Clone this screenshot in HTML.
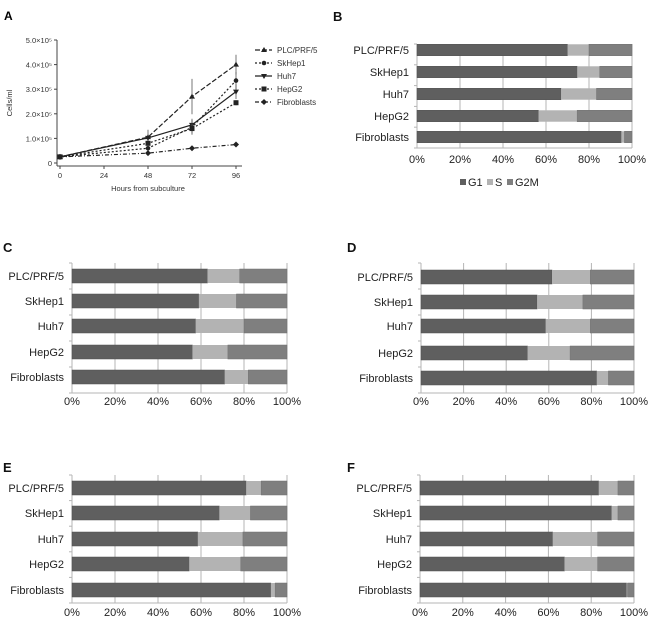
<!DOCTYPE html>
<html><head><meta charset="utf-8"><style>
body{margin:0;background:#fff}
svg{display:block;font-family:"Liberation Sans",Arial,sans-serif}
</style></head><body>
<svg id="fig" width="650" height="621" viewBox="0 0 650 621"></svg>
<script>
const NS="http://www.w3.org/2000/svg";
const svg=document.getElementById('fig');
function mk(tag,attrs,parent,text){const e=document.createElementNS(NS,tag);for(const k in attrs)e.setAttribute(k,attrs[k]);if(text!==undefined)e.textContent=text;(parent||svg).appendChild(e);return e;}

// ---------- Panel A data ----------
const hours=[0,48,72,96];
const lineNames=["PLC/PRF/5","SkHep1","Huh7","HepG2","Fibroblasts"];
const plcVals=[0.25,1.05,2.7,4.0];
const skVals=[0.25,0.6,1.45,3.35];
const huhVals=[0.25,1.02,1.55,2.9];
const hepVals=[0.25,0.8,1.4,2.45];
const fibVals=[0.25,0.4,0.6,0.75];
const plcErr=[0,0.3,0.72,0.4];
const skErr=[0,0.1,0.3,0.35];
const huhErr=[0,0.15,0.25,0.3];
const hepErr=[0,0.1,0.2,0.1];
const fibErr=[0,0.03,0.03,0.03];
const xTicksA=[0,24,48,72,96];
const yTicksA=[0,1,2,3,4,5];
const yTickLabelsA=["0","1.0×10⁵","2.0×10⁵","3.0×10⁵","4.0×10⁵","5.0×10⁵"];

// ---------- Panels B-F data ----------
const cellLines=["PLC/PRF/5","SkHep1","Huh7","HepG2","Fibroblasts"];
const xTickPct=[0,20,40,60,80,100];
const g1B=[70,74.5,67,56.5,95], sB=[10,10.5,16.5,18,1.5];
const g1C=[63,59,57.5,56,71], sC=[15,17.5,22.5,16.5,11];
const g1D=[61.5,54.5,58.5,50,82.5], sD=[18,21.5,21,20,5.5];
const g1E=[81,68.5,58.5,54.5,92.5], sE=[7,14.5,21,24,2];
const g1F=[83.5,89.5,62,67.5,96.5], sF=[9,3,21,15.5,0.5];

// ---------- Panel A ----------
const gA=mk('g',{},svg);


const ax=h=>60+h*(236-60)/96;
const ay=v=>163-v*(163-40)/5;
const la=mk('text',{x:4,y:20,'font-size':12,'font-weight':'bold'},gA,'A');

mk('line',{x1:57,y1:40,x2:57,y2:166,stroke:'#444','stroke-width':1},gA);
mk('line',{x1:57,y1:166,x2:242,y2:166,stroke:'#444','stroke-width':1},gA);
yTicksA.forEach((t,i)=>{
  mk('line',{x1:54,y1:ay(t),x2:57,y2:ay(t),stroke:'#444'},gA);
  const tl=mk('text',{x:52,y:ay(t)+3,'font-size':7.5,'text-anchor':'end',fill:'#333'},gA,yTickLabelsA[i]);
  
});
xTicksA.forEach(t=>{
  mk('line',{x1:ax(t),y1:166,x2:ax(t),y2:169,stroke:'#444'},gA);
  const tl=mk('text',{x:ax(t),y:178,'font-size':7.5,'text-anchor':'middle',fill:'#333'},gA,String(t));
  
});
const xt=mk('text',{x:148,y:191,'font-size':7.5,'text-anchor':'middle',fill:'#333'},gA,'Hours from subculture');

const yt=mk('text',{x:12,y:103,'font-size':7.5,'text-anchor':'middle',fill:'#333',transform:'rotate(-90 12 103)'},gA,'Cells/ml');

const series=[plcVals,skVals,huhVals,hepVals,fibVals];
const errs=[plcErr,skErr,huhErr,hepErr,fibErr];
const dashes=['5,2','2,2','none','2,2','4,2,1,2'];
const markers=['tri','circ','tridown','sq','diam'];
function marker(type,x,y,p){
  if(type==='tri')return mk('polygon',{points:`${x},${y-3} ${x-3},${y+2} ${x+3},${y+2}`,fill:'#222'},p);
  if(type==='tridown')return mk('polygon',{points:`${x},${y+3} ${x-3},${y-2} ${x+3},${y-2}`,fill:'#222'},p);
  if(type==='sq')return mk('rect',{x:x-2.5,y:y-2.5,width:5,height:5,fill:'#222'},p);
  if(type==='diam')return mk('polygon',{points:`${x},${y-3} ${x+3},${y} ${x},${y+3} ${x-3},${y}`,fill:'#222'},p);
  return mk('circle',{cx:x,cy:y,r:2.3,fill:'#222'},p);
}
series.forEach((vals,si)=>{
  const g=mk('g',{},gA);
  
  
  const pts=vals.map((v,i)=>ax(hours[i])+','+ay(v)).join(' ');
  mk('polyline',{points:pts,fill:'none',stroke:'#222','stroke-width':1.2,'stroke-dasharray':dashes[si]},g);
  vals.forEach((v,i)=>{
    const e=errs[si][i];
    if(e>0){mk('line',{x1:ax(hours[i]),y1:ay(v-e),x2:ax(hours[i]),y2:ay(v+e),stroke:'#555','stroke-width':0.8},g);}
    const m=marker(markers[si],ax(hours[i]),ay(v),g);
    
  });
});
lineNames.forEach((n,i)=>{
  const g=mk('g',{},gA);
  
  const y=50+i*13;
  mk('line',{x1:255,y1:y,x2:272,y2:y,stroke:'#222','stroke-width':1.2,'stroke-dasharray':dashes[i]},g);
  marker(markers[i],264,y,g);
  mk('text',{x:277,y:y+3,'font-size':8,fill:'#333'},g,n);
});

// ---------- Bar panels ----------
function barPanel(label,lx,ly,x0,x1,top,bottom,centers,g1,s,tickY,legend){
  const g=mk('g',{},svg);
  
  
  const pl=mk('text',{x:lx,y:ly,'font-size':13,'font-weight':'bold',fill:'#111'},g,label);
  
  const sx=v=>x0+v*(x1-x0)/100;
  xTickPct.forEach(t=>{
    mk('line',{x1:sx(t),y1:top,x2:sx(t),y2:bottom,stroke:'#b5b5b5','stroke-width':1},g);
    const tl=mk('text',{x:sx(t),y:tickY,'font-size':11,'text-anchor':'middle',fill:'#222'},g,t+'%');
    
  });
  mk('line',{x1:x0,y1:bottom,x2:x1,y2:bottom,stroke:'#b5b5b5'},g);
  const step=(bottom-top)/cellLines.length;
  for(let k=0;k<=cellLines.length;k++)mk('line',{x1:x0-3,y1:top+k*step,x2:x0,y2:top+k*step,stroke:'#b5b5b5'},g);
  const bh=Math.min(14,step*0.55);
  cellLines.forEach((n,i)=>{
    const cy=centers[i];
    const cl=mk('text',{x:x0-8,y:cy+4,'font-size':11,'text-anchor':'end',fill:'#222'},g,n);
    
    const a=mk('rect',{x:sx(0),y:cy-bh/2,width:sx(g1[i])-sx(0),height:bh,fill:'#5f5f5f',stroke:'#505050','stroke-width':0.5},g);
    
    const b=mk('rect',{x:sx(g1[i]),y:cy-bh/2,width:sx(g1[i]+s[i])-sx(g1[i]),height:bh,fill:'#b3b3b3'},g);
    
    const c=mk('rect',{x:sx(g1[i]+s[i]),y:cy-bh/2,width:sx(100)-sx(g1[i]+s[i]),height:bh,fill:'#7f7f7f',stroke:'#707070','stroke-width':0.5},g);
    
  });
  if(legend){
    const items=[['G1','#5f5f5f'],['S','#b3b3b3'],['G2M','#7f7f7f']];
    let x=460;
    items.forEach(([n,col])=>{
      const lg=mk('g',{},g);
      
      mk('rect',{x:x,y:179,width:6,height:6,fill:col},lg);
      mk('text',{x:x+8,y:186,'font-size':11,fill:'#222'},lg,n);
      x+= n==='G1'?27:(n==='S'?20:0);
    });
  }
}
barPanel('B',333,21,417,632,44,148,[50,72,94,116,137],g1B,sB,163,true);
barPanel('C',3,252,72,287,263,393,[276,301,326,352,377],g1C,sC,405,false);
barPanel('D',347,252,421,634,263,393,[277,302,326,353,378],g1D,sD,405,false);
barPanel('E',3,472,72,287,475,603,[488,513,539,564,590],g1E,sE,616,false);
barPanel('F',347,472,420,634,475,603,[488,513,539,564,590],g1F,sF,616,false);
</script>
</body></html>
